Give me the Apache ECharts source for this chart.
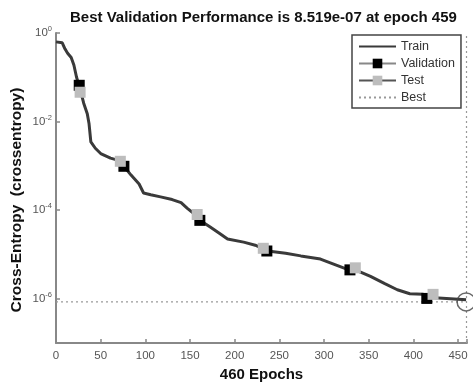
<!DOCTYPE html>
<html>
<head>
<meta charset="utf-8">
<script src="https://cdn.jsdelivr.net/npm/echarts@6/dist/echarts.min.js"></script>
<style>html,body{margin:0;padding:0;background:#fff}#c{width:473px;height:387px}</style>
</head>
<body>
<div id="c"></div>
<script>
const trainEpochs = [0,7,10,13,17,20,23,27,31,35,37,39,44,50,61,69,76,84,93,98,106,117,130,140,147,156,161,173,184,192,210,223,237,257,274,296,307,324,335,352,368,382,396,411,419,437,459];
const trainLoss = [0.63,0.60,0.44,0.35,0.28,0.19,0.10,0.054,0.026,0.015,0.0089,0.0035,0.0025,0.0019,0.0015,0.00135,0.00098,0.00062,0.00039,0.000245,0.000224,0.0002,0.000174,0.000148,0.00011,0.000079,0.000059,0.000041,0.000029,0.0000224,0.000019,0.0000162,0.000012,0.0000107,0.0000093,0.0000079,0.0000065,0.0000048,0.0000045,0.0000032,0.0000022,0.0000016,0.0000013,0.00000126,0.00000107,0.00000102,0.00000095];
const valEpochs = [26,76,161,236,329,415];
const valLoss = [0.066,0.00098,0.000059,0.000012,0.0000045,0.00000102];
const testEpochs = [27,72,158,232,335,422];
const testLoss = [0.046,0.00127,0.00008,0.0000138,0.000005,0.00000126];
const bestEpoch = 459;
const bestValue = 8.519e-7;
const xTicks = [0,50,100,150,200,250,300,350,400,450];
const yTickExps = [0,-2,-4,-6];

const zip = (a,b) => a.map((v,i)=>[v,b[i]]);
const FONT = 'Liberation Sans, Arial, sans-serif';
const chart = echarts.init(document.getElementById('c'), null, {renderer:'canvas'});
chart.setOption({
  animation:false,
  backgroundColor:'#fff',
  title:{
    text:'Best Validation Performance is 8.519e-07 at epoch 459',
    left:65, top:5,
    textStyle:{fontFamily:FONT,fontSize:15,fontWeight:'bold',color:'#111'}
  },
  graphic:[{
    type:'text', x:17, y:200, rotation:Math.PI/2,
    style:{text:'Cross-Entropy  (crossentropy)', fontFamily:FONT, fontSize:15.5, fontWeight:'bold',
      fill:'#111', align:'center', verticalAlign:'middle'}
  }],
  grid:{left:56,right:6,top:33,bottom:40},
  legend:{
    orient:'vertical', left:352, top:35,
    padding:[5,6,4,6], itemGap:4, itemWidth:37, itemHeight:12,
    backgroundColor:'#fff', borderColor:'#444', borderWidth:1.5, borderRadius:0,
    textStyle:{fontFamily:FONT,fontSize:12.5,color:'#333'},
    data:[
      {name:'Train', itemStyle:{opacity:0}},
      {name:'Validation', lineStyle:{color:'#888',width:2,opacity:1}},
      {name:'Test', lineStyle:{color:'#555',width:2,opacity:1}},
      {name:'Best', itemStyle:{opacity:0}}
    ]
  },
  xAxis:{
    type:'value', min:0, max:460, interval:50,
    name:'460 Epochs', nameLocation:'middle', nameGap:22,
    nameTextStyle:{fontFamily:FONT,fontSize:15,fontWeight:'bold',color:'#111'},
    axisLine:{show:true,lineStyle:{color:'#888',width:2}},
    axisTick:{show:true,inside:true,length:4,lineStyle:{color:'#888',width:1.5}},
    axisLabel:{fontFamily:FONT,fontSize:11.5,color:'#555',margin:7,
      formatter:v => xTicks.indexOf(v)>=0 ? String(v) : ''},
    splitLine:{show:false}
  },
  yAxis:{
    type:'log', logBase:100, min:1e-7, max:1,
    axisLine:{show:true,lineStyle:{color:'#888',width:2}},
    axisTick:{show:true,inside:true,length:4,lineStyle:{color:'#888',width:1.5}},
    axisLabel:{margin:4,
      formatter:v => {
        const e = Math.round(Math.log10(v));
        if (yTickExps.indexOf(e) < 0 || Math.abs(Math.log10(v)-e)>1e-6) return '';
        return '{b|10}{s|' + e + '}';
      },
      rich:{
        b:{fontFamily:FONT,fontSize:11.5,color:'#555',lineHeight:16},
        s:{fontFamily:FONT,fontSize:7.5,color:'#555',verticalAlign:'top',lineHeight:9}
      }
    },
    splitLine:{show:false},
    minorTick:{show:false}
  },
  series:[
    {name:'Train', type:'line', data:zip(trainEpochs,trainLoss), showSymbol:false, symbol:'none',
      lineStyle:{color:'#3a3a3a',width:3}, itemStyle:{color:'#3a3a3a'}, z:3},
    {name:'Validation', type:'line', data:zip(valEpochs,valLoss), symbol:'rect', symbolSize:11,
      lineStyle:{opacity:0}, itemStyle:{color:'#000'}, z:4},
    {name:'Test', type:'line', data:zip(testEpochs,testLoss), symbol:'rect', symbolSize:11,
      lineStyle:{opacity:0}, itemStyle:{color:'#bdbdbd'}, z:5},
    {name:'Best', type:'line', data:[[0,bestValue],[bestEpoch,bestValue]], symbol:'none',
      lineStyle:{color:'#999',width:1.2,type:[2,3]}, itemStyle:{color:'#999'}, z:2,
      markLine:{silent:true, symbol:'none', label:{show:false},
        lineStyle:{color:'#999',width:1.2,type:[2,3]},
        data:[{xAxis:bestEpoch}]}},
    {name:'BestCircle', type:'scatter', data:[[bestEpoch,bestValue]], symbol:'circle', symbolSize:18,
      itemStyle:{color:'rgba(0,0,0,0)',borderColor:'#444',borderWidth:1.5}, z:6}
  ]
});
</script>
</body>
</html>
